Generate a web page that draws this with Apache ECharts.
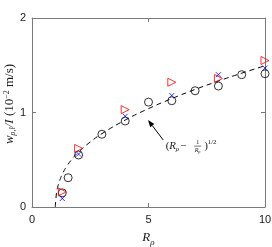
<!DOCTYPE html>
<html><head><meta charset="utf-8">
<script src="https://cdn.jsdelivr.net/npm/echarts@6/dist/echarts.min.js"></script>
<style>html,body{margin:0;padding:0;background:#fff}#c{width:272px;height:247px}</style>
</head><body><div id="c"></div>
<script>
// data
const circleR = [1.3, 1.55, 2.0, 3.0, 4.0, 5.0, 6.0, 7.0, 8.0, 9.0, 10.0];
const circleV = [0.15, 0.31, 0.55, 0.77, 0.91, 1.11, 1.125, 1.23, 1.28, 1.40, 1.41];
const crossR = [1.3, 2.0, 4.0, 6.0, 8.0, 10.0];
const crossV = [0.09, 0.56, 0.96, 1.18, 1.40, 1.47];
const triR = [1.3, 2.0, 4.0, 6.0, 8.0, 10.0];
const triV = [0.16, 0.62, 1.03, 1.32, 1.36, 1.55];
// dashed curve (R - 1/R)^(1/2)
const curveR = [1.0, 1.05, 1.1, 1.2, 1.35, 1.5, 1.75, 2.0, 2.5, 3.0, 4.0, 5.0, 6.0, 7.0, 8.0, 9.0, 10.0];
const curveV = [0.0, 0.148, 0.208, 0.288, 0.371, 0.434, 0.516, 0.582, 0.688, 0.776, 0.920, 1.041, 1.147, 1.244, 1.333, 1.416, 1.495];
const xTicks = [0, 5, 10];
const yTicks = [0, 1, 2];

const zip = (a, b) => a.map((v, i) => [v, b[i]]);
const axisCol = '#7a7a7a';
const txtCol = '#1a1a1a';
const sans = '"Liberation Sans", Arial, sans-serif';
const serif = '"Liberation Serif", "DejaVu Serif", serif';

const chart = echarts.init(document.getElementById('c'), null, {renderer: 'canvas'});
const baseAxis = {
  type: 'value',
  splitLine: {show: false},
  axisLine: {show: true, onZero: false, lineStyle: {color: axisCol, width: 1}},
  axisTick: {show: true, inside: true, length: 4, lineStyle: {color: axisCol}},
};
chart.setOption({
  animation: false,
  backgroundColor: '#fff',
  grid: {left: 32, right: 7, top: 18, bottom: 40, containLabel: false, outerBoundsMode: 'none'},
  xAxis: [
    Object.assign({}, baseAxis, {
      min: xTicks[0], max: xTicks[xTicks.length - 1], interval: xTicks[1] - xTicks[0], position: 'bottom',
      axisLabel: {color: txtCol, fontFamily: sans, fontSize: 11, margin: 7},
      name: '{i|R}{s|ρ}', nameLocation: 'middle', nameGap: 22,
      nameTextStyle: {
        rich: {
          i: {fontFamily: serif, fontStyle: 'italic', fontSize: 13, color: txtCol, lineHeight: 16, verticalAlign: 'top'},
          s: {fontFamily: serif, fontStyle: 'italic', fontSize: 9, color: txtCol, lineHeight: 16, verticalAlign: 'bottom', padding: [8, 0, 0, 0]}
        }
      }
    }),
    Object.assign({}, baseAxis, {
      min: xTicks[0], max: xTicks[xTicks.length - 1], interval: xTicks[1] - xTicks[0], position: 'top',
      axisLabel: {show: false}
    })
  ],
  yAxis: [
    Object.assign({}, baseAxis, {
      min: yTicks[0], max: yTicks[yTicks.length - 1], interval: yTicks[1] - yTicks[0], position: 'left',
      axisLabel: {color: txtCol, fontFamily: sans, fontSize: 11, margin: 6}
    }),
    Object.assign({}, baseAxis, {
      min: yTicks[0], max: yTicks[yTicks.length - 1], interval: yTicks[1] - yTicks[0], position: 'right',
      axisLabel: {show: false}
    })
  ],
  series: [
    {type: 'line', data: zip(curveR, curveV), showSymbol: false, symbol: 'none', smooth: true,
     lineStyle: {color: '#000', width: 1, type: [5, 4]}, z: 2},
    {type: 'scatter', data: zip(circleR, circleV), symbol: 'circle', symbolSize: 8,
     itemStyle: {color: 'rgba(0,0,0,0)', borderColor: '#000', borderWidth: 1}, z: 3},
    {type: 'scatter', data: zip(triR, triV), symbol: 'triangle', symbolRotate: -90, symbolSize: 8,
     itemStyle: {color: 'rgba(0,0,0,0)', borderColor: '#ff0000', borderWidth: 1}, z: 4},
    {type: 'scatter', data: zip(crossR, crossV), symbol: 'path://M0,0L10,10M0,10L10,0', symbolSize: 5,
     itemStyle: {color: 'rgba(0,0,0,0)', borderColor: '#0000ff', borderWidth: 1}, z: 5}
  ]
});

// annotation: arrow + formula label
const tail = chart.convertToPixel({xAxisIndex: 0, yAxisIndex: 0}, [5.63, 0.71]);
const head = chart.convertToPixel({xAxisIndex: 0, yAxisIndex: 0}, [4.98, 0.92]);
const dx = head[0] - tail[0], dy = head[1] - tail[1];
const L = Math.hypot(dx, dy), ux = dx / L, uy = dy / L;
const aL = 7, aW = 2.6;
const bx = head[0] - ux * aL, by = head[1] - uy * aL;
const ox = tail[0] + 2.5, oy = tail[1] + 6.7;
const T = (text, x, y, font, extra) => Object.assign({
  type: 'text', silent: true,
  style: {text, x: ox + x, y: oy + y, font, fill: txtCol, textAlign: 'left', textVerticalAlign: 'middle'}
}, extra || {});
const fMain = '11px ' + serif, fIt = 'italic 11px ' + serif;
chart.setOption({
  graphic: [
    {type: 'text', silent: true, x: 10, y: 104, rotation: Math.PI / 2,
     style: {
       text: '{i|w}{s|ρ,l}{i|/I} {n|(10}{p|−2}{n| m/s)}', align: 'center', verticalAlign: 'middle',
       rich: {
         i: {fontFamily: serif, fontStyle: 'italic', fontSize: 13, fill: txtCol},
         n: {fontFamily: serif, fontSize: 13, fill: txtCol},
         s: {fontFamily: serif, fontStyle: 'italic', fontSize: 8, fill: txtCol, padding: [6, 0, 0, 0]},
         p: {fontFamily: serif, fontSize: 8, fill: txtCol, padding: [0, 0, 7, 0]}
       }
     }},
    {type: 'line', silent: true, shape: {x1: tail[0], y1: tail[1], x2: bx, y2: by}, style: {stroke: '#000', lineWidth: 1}},
    {type: 'polygon', silent: true, shape: {points: [head, [bx - uy * aW, by + ux * aW], [bx + uy * aW, by - ux * aW]]}, style: {fill: '#000'}},
    T('(', 0, 0, fMain),
    T('R', 3.5, 0, fIt),
    T('ρ', 10, 3, 'italic 7px ' + serif),
    T('−', 14.5, 0, fMain),
    T('1', 30.5, -4.3, '6px ' + serif),
    {type: 'line', silent: true, shape: {x1: ox + 28.5, y1: oy - 0.5, x2: ox + 35.5, y2: oy - 0.5}, style: {stroke: txtCol, lineWidth: 0.6}},
    T('R', 29, 3.6, 'italic 6px ' + serif),
    T('ρ', 32.5, 5, 'italic 4.5px ' + serif),
    T(')', 38.5, 0, fMain),
    T('1/2', 42, -4.5, '7px ' + serif)
  ]
});
</script></body></html>
